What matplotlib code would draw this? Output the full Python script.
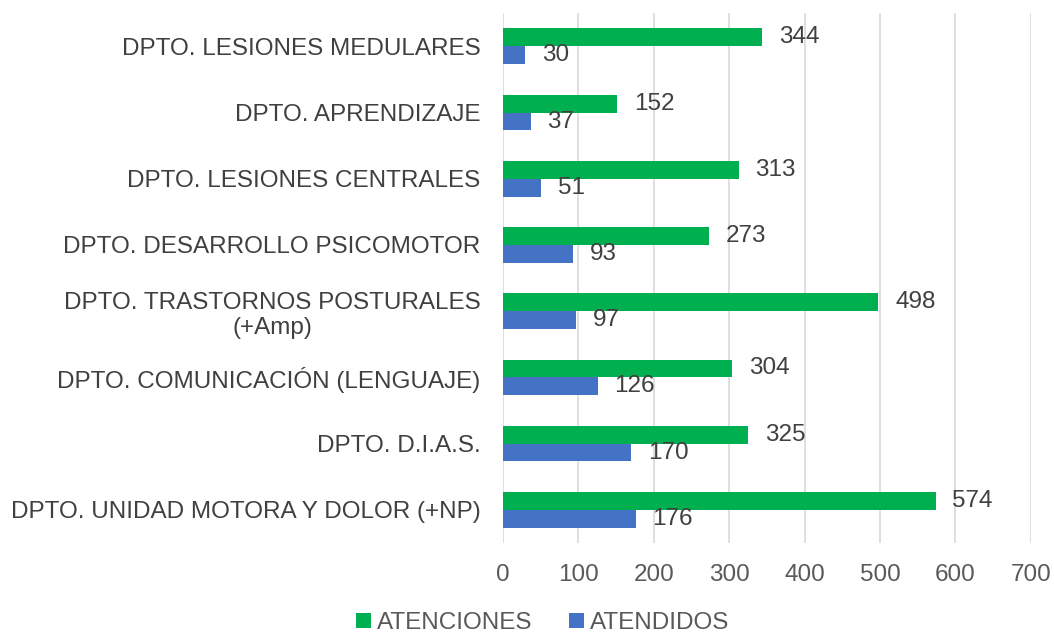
import numpy as np
import matplotlib
matplotlib.use("Agg")
import matplotlib.pyplot as plt

plt.rcParams["font.family"] = ["Liberation Sans", "DejaVu Sans"]

departments = [
    "DPTO. LESIONES MEDULARES",
    "DPTO. APRENDIZAJE",
    "DPTO. LESIONES CENTRALES",
    "DPTO. DESARROLLO PSICOMOTOR",
    "DPTO. TRASTORNOS POSTURALES\n(+Amp)",
    "DPTO. COMUNICACIÓN (LENGUAJE)",
    "DPTO. D.I.A.S.",
    "DPTO. UNIDAD MOTORA Y DOLOR (+NP)",
]
atenciones = [344, 152, 313, 273, 498, 304, 325, 574]
atendidos = [30, 37, 51, 93, 97, 126, 170, 176]
xticks = [0, 100, 200, 300, 400, 500, 600, 700]

green = "#00b050"
blue = "#4472c4"

fig = plt.figure(figsize=(10.54, 6.32), dpi=100)
ax = fig.add_axes([0.477, 0.141, 0.501, 0.838])

y = np.arange(len(departments))
h = 0.27
b1 = ax.barh(y - h / 2, atenciones, height=h, color=green, label="ATENCIONES", zorder=3)
b2 = ax.barh(y + h / 2, atendidos, height=h, color=blue, label="ATENDIDOS", zorder=3)

for bars in (b1, b2):
    ax.bar_label(bars, padding=12, fontsize=17.5, color="#404040")

ax.set_ylim(len(departments) - 0.5, -0.5)
ax.set_yticks(y)
ax.set_yticklabels(departments, fontsize=17.5, color="#404040", ha="right", multialignment="center")
ax.set_xlim(0, 700)
ax.set_xticks(xticks)
ax.set_xticklabels([str(t) for t in xticks], fontsize=17.5, color="#595959")
ax.tick_params(axis="both", length=0)
ax.tick_params(axis="x", pad=15)
ax.tick_params(axis="y", pad=16)
ax.grid(axis="x", color="#d9d9d9", linewidth=1.2, zorder=0)
for s in ax.spines.values():
    s.set_visible(False)

fig.legend(handles=[b1, b2], loc="lower center", bbox_to_anchor=(0.515, -0.038), ncol=2,
           frameon=False, fontsize=17.5, labelcolor="#595959",
           handlelength=0.6, handleheight=0.6, handletextpad=0.25, columnspacing=1.5)

fig.savefig("out.png", dpi=100)
